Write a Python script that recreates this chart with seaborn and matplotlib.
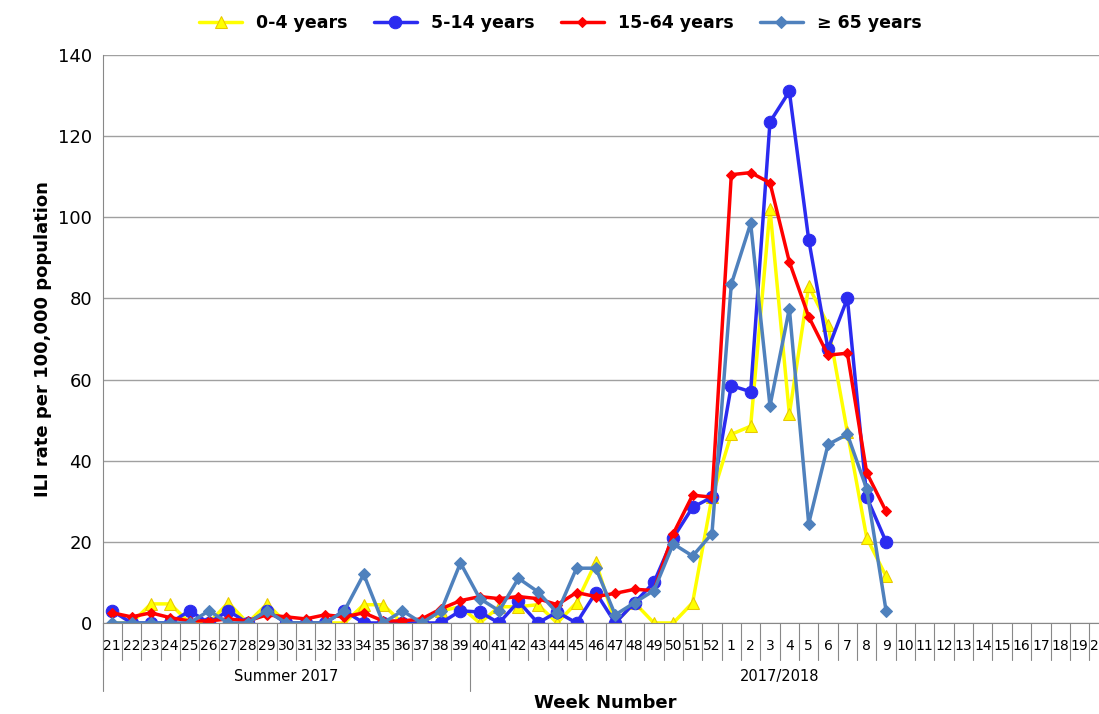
import matplotlib
matplotlib.use("Agg")
import matplotlib.pyplot as plt
import seaborn as sns
import pandas as pd
import numpy as np

weeks = [str(w) for w in list(range(21, 53)) + list(range(1, 21))]
age_0_4 = [0,0,4.7,4.7,0,0,5,0,4.7,0,0,0,0,4.5,4.5,0,0,3,4,0,4,4,4.5,0,5,15,0,5,0,0,5,31,46.5,48.5,102,51.5,83,73.5,47,21,11.5]
age_5_14 = [3,0,0,0,3,0,3,0,3,0,0,0,3,0,0,0,0,0,3,2.7,0,5.3,0,2.7,0,7.5,0,5,10,21,28.5,31,58.5,57,123.5,131,94.5,67.5,80,31,20]
age_15_64 = [2.5,1.5,2.5,1.3,0.5,0.5,1,0.5,2,1.5,1,2,1.5,2.5,0.5,0.5,1,3.5,5.5,6.5,6,6.5,6,4.5,7.5,6.5,7.3,8.3,8,22,31.5,31,110.5,111,108.5,89,75.5,66,66.5,37,27.5]
age_65 = [0,0,0,0,0,3,0,0,3,0,0,0,3,12,0,3,0,3,14.8,6,3,11,7.7,2.5,13.5,13.5,2,5,8,19.5,16.5,22,83.5,98.5,53.5,77.5,24.5,44,46.5,33,3]
series = [("0-4 years", age_0_4, "#FFFF00", "^", "#E8C800", 9),
          ("5-14 years", age_5_14, "#2B2BF0", "o", "#2B2BF0", 9),
          ("15-64 years", age_15_64, "#FF0000", "D", "#FF0000", 5.5),
          ("\u2265 65 years", age_65, "#4F81BD", "D", "#4F81BD", 6)]

sns.set_style("white")
plt.rcParams["text.color"] = "black"
plt.rcParams["ytick.labelcolor"] = "black"
fig = plt.figure(figsize=(10.99, 7.14), dpi=100)
ax = fig.add_axes([0.0933, 0.1275, 0.9154, 0.7955])
for name, vals, col, mk, ec, ms in series:
    df = pd.DataFrame({"x": np.arange(len(vals)), "y": vals})
    sns.lineplot(data=df, x="x", y="y", ax=ax, color=col, marker=mk, markersize=ms,
                 markeredgecolor=ec, linewidth=2.5, label=name)
ax.set_xlim(-0.5, len(weeks) - 0.5)
ax.set_ylim(0, 140)
ax.set_yticks(range(0, 141, 20))
ax.tick_params(axis="y", labelsize=13, length=4, color="#888888", labelcolor="black")
ax.yaxis.grid(True, color="#A0A0A0", linewidth=1)
for s in ["top", "right"]:
    ax.spines[s].set_visible(False)
ax.spines["left"].set_color("#888888")
ax.spines["bottom"].set_color("#888888")
ax.set_xticks(np.arange(len(weeks)))
ax.set_xticklabels([])
ax.tick_params(axis="x", length=0)
ax.set_xlabel("")
ax.set_ylabel("ILI rate per 100,000 population", fontsize=13, fontweight="bold", color="black")
trans = ax.get_xaxis_transform()
for i, w in enumerate(weeks):
    ax.text(i, -0.04, w, transform=trans, ha="center", va="center", fontsize=10, clip_on=False)
for i in range(len(weeks) + 1):
    ax.plot([i - 0.5, i - 0.5], [0, -0.065], transform=trans, color="#888888", lw=0.8, clip_on=False)
for b in [-0.5, 18.5]:
    ax.plot([b, b], [0, -0.12], transform=trans, color="#888888", lw=0.8, clip_on=False)
ax.text(9, -0.095, "Summer 2017", transform=trans, ha="center", va="center", fontsize=10.5)
ax.text(34.5, -0.095, "2017/2018", transform=trans, ha="center", va="center", fontsize=10.5)
fig.text(0.551, 0.003, "Week Number", ha="center", va="bottom", fontsize=13, fontweight="bold")
ax.legend(loc="upper center", bbox_to_anchor=(0.455, 1.1), ncol=4, frameon=False,
          prop={"size": 12.5, "weight": "bold"}, handlelength=2.5, columnspacing=1.5)
fig.savefig("out.png", dpi=100)
